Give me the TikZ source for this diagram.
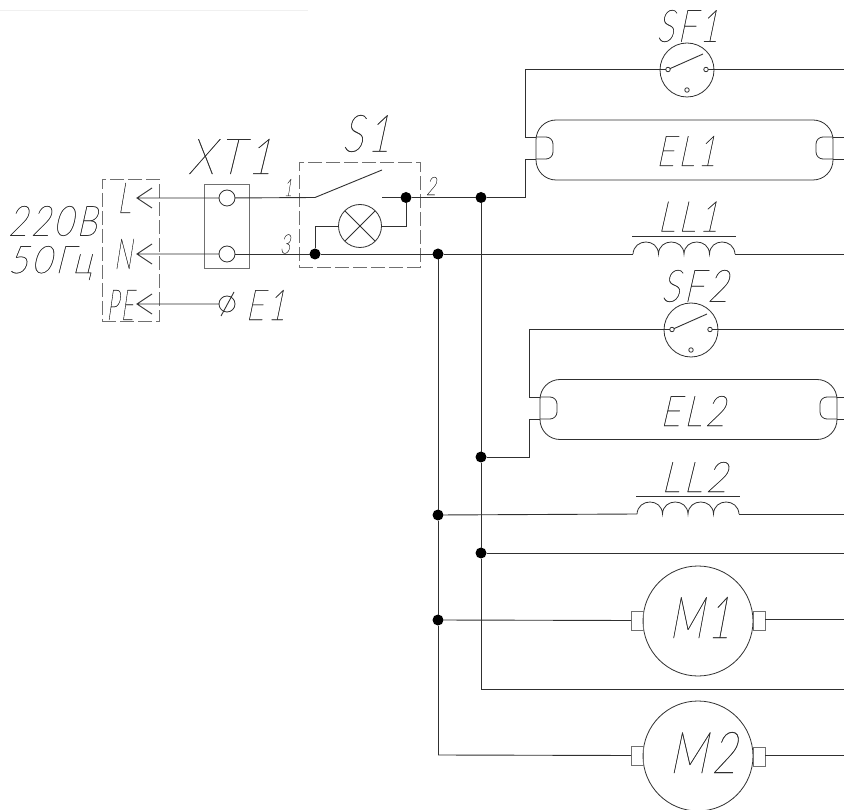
\documentclass[tikz,border=0pt]{standalone}
\usepackage{graphicx}
\usepackage{fontspec}
\setmainfont{Lato}[UprightFont={* Thin},BoldFont={* Thin},ItalicFont={* Thin},BoldItalicFont={* Thin},UprightFeatures={FakeSlant=0.28,LetterSpace=10,FakeBold=0.5}]
\newcommand{\lbl}[3]{\resizebox*{#1pt}{#2pt}{#3}}
\definecolor{ink}{HTML}{303030}
\definecolor{dashgrey}{HTML}{707070}
\tikzset{
  wire/.style={draw=ink,line width=0.9pt,line join=miter},
  frame/.style={draw=dashgrey,line width=0.9pt,dash pattern=on 14pt off 4pt},
  thin part/.style={draw=ink,line width=0.8pt},
  dotnode/.style={circle,fill=black,draw=none,minimum size=11pt,inner sep=0pt,outer sep=0pt},
  ringnode/.style={circle,thin part,inner sep=0pt,outer sep=0pt,fill=none},
  pin/.style={ringnode,minimum size=4.5pt},
  txt/.style={inner sep=0pt,outer sep=0pt,text=ink},
  tube/.style={draw=ink,line width=0.8pt,rounded corners=20pt,minimum width=297pt,minimum height=60pt,inner sep=0pt,outer sep=0pt},
  termbox/.style={draw=dashgrey,line width=0.9pt,minimum width=12pt,minimum height=19pt,inner sep=0pt,outer sep=0pt},
  blockbox/.style={draw=dashgrey,line width=0.9pt,inner sep=0pt,outer sep=0pt}
}
\begin{document}
\begin{tikzpicture}[x=1pt,y=-1pt]
\useasboundingbox (0,0) rectangle (844,810);
\fill[white] (0,0) rectangle (844,810);
\draw[black!6,line width=0.8pt] (0,10) -- (308,10);

% frames
\node[frame,minimum width=57pt,minimum height=142pt,inner sep=0pt,outer sep=0pt] (inbox) at (130.5,250) {};
\node[frame,minimum width=121pt,minimum height=105pt,inner sep=0pt,outer sep=0pt] (s1box) at (359.5,214.5) {};

% right edge coordinates
\coordinate (eL1a) at (844,69.5);
\coordinate (eT1a) at (844,137);
\coordinate (eT1b) at (844,159);
\coordinate (eLL1) at (844,254);
\coordinate (eL2a) at (844,329.5);
\coordinate (eT2a) at (844,397);
\coordinate (eT2b) at (844,419);
\coordinate (eLL2) at (844,514);
\coordinate (eBus) at (844,553);
\coordinate (eM1) at (844,619.5);
\coordinate (eLow) at (844,689);
\coordinate (eM2) at (844,755);

% terminal block
\node[blockbox,minimum width=45pt,minimum height=84pt] (xt) at (226.5,226) {};
\node[ringnode,minimum size=16pt] (xtL) at (227,198) {};
\node[ringnode,minimum size=16pt] (xtN) at (227,254) {};
\node[ringnode,minimum size=16pt] (pe) at (227,304) {};
\coordinate (peA) at (221,316);
\coordinate (peB) at (234,292);
\draw[wire] (peA) -- (peB);

% arrows
\coordinate (tipL) at (137,198);
\coordinate (tipN) at (137,254);
\coordinate (tipP) at (137,304);
\draw[wire] (xtL) -- (tipL) ++(15,-10) -- (tipL) -- ++(15,10);
\draw[wire] (xtN) -- (tipN) ++(15,-10) -- (tipN) -- ++(15,10);
\draw[wire] (pe) -- (tipP) ++(15,-10) -- (tipP) -- ++(15,10);

% switch S1
\coordinate (swA) at (315,197.5);
\coordinate (swB) at (382,170);
\coordinate (swC) at (382,197.5);
\node[dotnode] (d406) at (406,197.5) {};
\node[dotnode] (d315) at (315,254) {};
\node[dotnode] (d438a) at (438,254) {};
\node[dotnode] (d481a) at (481,197.5) {};
\node[dotnode] (d481b) at (481,457) {};
\node[dotnode] (d481c) at (481,553) {};
\node[dotnode] (d438b) at (438,515) {};
\node[dotnode] (d438c) at (438,620) {};
\node[circle,thin part,minimum size=43pt,inner sep=0pt,outer sep=0pt] (lamp) at (360,226) {};
\draw[thin part] (lamp.north west) -- (lamp.south east);
\draw[thin part] (lamp.north east) -- (lamp.south west);
\draw[wire] (xtL) -- (swA) -- (swB);
\draw[wire] (swC) -- (d406) -- (d481a);
\draw[wire] (lamp.east) -| (d406);
\draw[wire] (lamp.west) -| (d315);
\draw[wire] (xtN) -- (d315) -- (d438a);

% buses
\coordinate (busLow) at (481,689);
\coordinate (busM2) at (438,755);
\draw[wire] (d481a) -- (d481b) -- (d481c) -- (busLow) -- (eLow);
\draw[wire] (d438a) -- (d438b) -- (d438c) -- (busM2);
\draw[wire] (d481c) -- (eBus);

% SF1 / EL1
\node[circle,thin part,minimum size=54pt,inner sep=0pt,outer sep=0pt] (sf1) at (687,70) {};
\node[pin] (sf1a) at (668,69.5) {};
\node[pin] (sf1b) at (706,69.5) {};
\node[pin] (sf1c) at (687,90) {};
\coordinate (sf1t) at (703,54);
\draw[wire] (sf1a) -- (sf1t);
\draw[wire] (sf1b) -- (eL1a);
\node[tube] (el1) at (684.5,150) {};
\coordinate (w1a) at (525,69.5);
\coordinate (w1b) at (525,137);
\coordinate (w1c) at (525,159);
\coordinate (w1d) at (525,197.5);
\draw[wire] (sf1a) -- (w1a) -- (w1b) -- (536,137);
\draw[wire] (d481a) -- (w1d) -- (w1c) -- (536,159);
\draw[thin part,rounded corners=7pt] (536,137) -- (553,137) -- (553,159) -- (536,159);
\draw[thin part,rounded corners=7pt] (833,137) -- (816,137) -- (816,159) -- (833,159);
\draw[wire] (833,137) -- (eT1a);
\draw[wire] (833,159) -- (eT1b);

% SF2 / EL2
\node[circle,thin part,minimum size=54pt,inner sep=0pt,outer sep=0pt] (sf2) at (691,330) {};
\node[pin] (sf2a) at (672,329.5) {};
\node[pin] (sf2b) at (710,329.5) {};
\node[pin] (sf2c) at (691,350) {};
\coordinate (sf2t) at (707,314);
\draw[wire] (sf2a) -- (sf2t);
\draw[wire] (sf2b) -- (eL2a);
\node[tube] (el2) at (688.5,409.5) {};
\coordinate (w2a) at (529,329.5);
\coordinate (w2b) at (529,397);
\coordinate (w2c) at (529,419);
\coordinate (w2d) at (529,457);
\draw[wire] (sf2a) -- (w2a) -- (w2b) -- (540,397);
\draw[wire] (d481b) -- (w2d) -- (w2c) -- (540,419);
\draw[thin part,rounded corners=7pt] (540,397) -- (557,397) -- (557,419) -- (540,419);
\draw[thin part,rounded corners=7pt] (837,397) -- (820,397) -- (820,419) -- (837,419);
\draw[wire] (837,397) -- (eT2a);
\draw[wire] (837,419) -- (eT2b);

% LL1
\coordinate (ll1s) at (633,254);
\coordinate (ll1e) at (735,254);
\coordinate (ll1p) at (632,236.5);
\coordinate (ll1q) at (736,236.5);
\draw[wire] (d438a) -- (ll1s);
\draw[wire] (ll1e) -- (eLL1);
\draw[wire] (ll1p) -- (ll1q);
\draw[thin part] (ll1s) .. controls (634,238) and (658,238) .. (658.5,254)
  .. controls (659,238) and (683.5,238) .. (684,254)
  .. controls (684.5,238) and (709,238) .. (709.5,254)
  .. controls (710,238) and (734,238) .. (ll1e);

% LL2
\coordinate (ll2s) at (637,514);
\coordinate (ll2e) at (739,514);
\coordinate (ll2p) at (636,496.5);
\coordinate (ll2q) at (740,496.5);
\draw[wire] (d438b) -- (ll2s);
\draw[wire] (ll2e) -- (eLL2);
\draw[wire] (ll2p) -- (ll2q);
\draw[thin part] (ll2s) .. controls (638,498) and (662,498) .. (662.5,514)
  .. controls (663,498) and (687.5,498) .. (688,514)
  .. controls (688.5,498) and (713,498) .. (713.5,514)
  .. controls (714,498) and (738,498) .. (ll2e);

% motors
\node[circle,thin part,minimum size=110pt,inner sep=0pt,outer sep=0pt] (m1) at (698,621) {};
\node[circle,thin part,minimum size=110pt,inner sep=0pt,outer sep=0pt] (m2) at (698,756) {};
\node[termbox] (m1l) at (637,620.5) {};
\node[termbox] (m1r) at (759,621) {};
\node[termbox] (m2l) at (637,755.5) {};
\node[termbox] (m2r) at (759,756.5) {};
\draw[wire] (d438c) -- (m1l.west);
\draw[wire] (m1r.east |- eM1) -- (eM1);
\draw[wire] (busM2) -- (m2l.west);
\draw[wire] (m2r.east |- eM2) -- (eM2);

% labels
\node[txt] (t220) at (52.5,221) {\lbl{89}{30}{220В}};
\node[txt] (t50) at (50,263) {\lbl{84}{34}{50Гц}};
\node[txt] (tL) at (124,198) {\lbl{13}{30}{L}};
\node[txt] (tN) at (123,254) {\lbl{18}{30}{N}};
\node[txt] (tPE) at (120,305) {\lbl{27}{30}{PE}};
\node[txt] (tE1) at (265.5,305) {\lbl{40}{30}{E1}};
\node[txt] (tXT) at (230,156.5) {\lbl{84}{35}{XT1}};
\node[txt] (tS1) at (366,133.5) {\lbl{48}{37}{S1}};
\node[txt] (t1) at (288,187.5) {\lbl{8}{17}{1}};
\node[txt] (t3) at (285,244) {\lbl{10}{19}{3}};
\node[txt] (t2) at (431,186) {\lbl{10}{18}{2}};
\node[txt] (tSF1) at (687.5,26) {\lbl{62}{32}{SF1}};
\node[txt] (tEL1) at (686,151) {\lbl{60}{30}{EL1}};
\node[txt] (tLL1) at (688,216.5) {\lbl{61}{30}{LL1}};
\node[txt] (tSF2) at (694.5,286) {\lbl{67}{32}{SF2}};
\node[txt] (tEL2) at (692.5,411) {\lbl{65}{30}{EL2}};
\node[txt] (tLL2) at (694,477) {\lbl{66}{30}{LL2}};
\node[txt] (tM1) at (699.5,617.5) {\lbl{61}{41}{M1}};
\node[txt] (tM2) at (702.5,752.5) {\lbl{67}{41}{M2}};
\end{tikzpicture}
\end{document}
